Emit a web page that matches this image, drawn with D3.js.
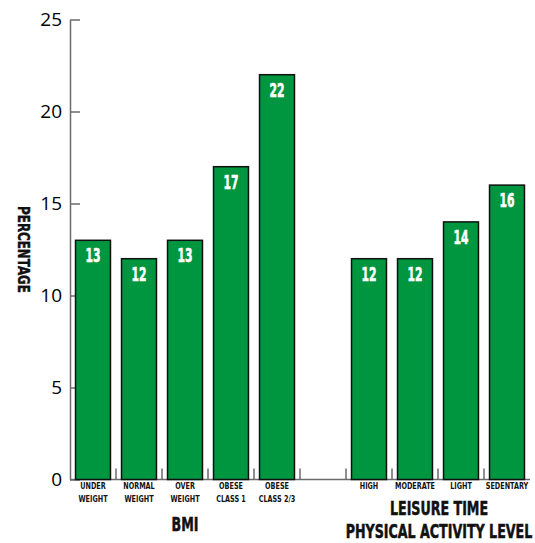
<!DOCTYPE html>
<html>
<head>
<meta charset="utf-8">
<script src="https://cdn.jsdelivr.net/npm/d3@7"></script>
<style>
  body { margin: 0; background: #fff; }
  .cond { font-family: "DejaVu Sans Condensed", "Liberation Sans Narrow", sans-serif; font-weight: bold; }
</style>
</head>
<body>
<svg id="chart" width="535" height="543"></svg>
<script>
const bmiLabels = [['UNDER', 'WEIGHT'], ['NORMAL', 'WEIGHT'], ['OVER', 'WEIGHT'], ['OBESE', 'CLASS 1'], ['OBESE', 'CLASS 2/3']];
const bmiValues = [13, 12, 13, 17, 22];
const activityLabels = [['HIGH'], ['MODERATE'], ['LIGHT'], ['SEDENTARY']];
const activityValues = [12, 12, 14, 16];
const yTicks = [0, 5, 10, 15, 20, 25];

const rows = [
	...bmiLabels.map((l, i) => ({key: 'b' + i, label: l, value: bmiValues[i]})),
	{key: 'gap', label: [], value: null},
	...activityLabels.map((l, i) => ({key: 'a' + i, label: l, value: activityValues[i]}))
];

const svg = d3.select('#chart'),
	plotLeft = 70, plotRight = 530, plotTop = 19.5, plotBottom = 479.5,
	green = '#00953f', axisColor = '#6b6b6b';

// squeeze text horizontally to imitate a condensed heavy face
const squeeze = (sel, k) => sel.each(function () {
	const len = this.getComputedTextLength();
	d3.select(this).attr('textLength', len * k).attr('lengthAdjust', 'spacingAndGlyphs');
});

const x = d3.scaleBand()
	.domain(rows.map(d => d.key))
	.range([plotLeft, plotRight])
	.paddingInner(0.24)
	.paddingOuter(0.12);

const y = d3.scaleLinear().domain([0, 25]).range([plotBottom, plotTop]);

// y axis, ticks pointing into the plot
const yAxis = svg.append('g')
	.attr('transform', `translate(${plotLeft},0)`)
	.call(d3.axisLeft(y).tickValues(yTicks).tickSize(-10).tickSizeOuter(0).tickPadding(8));
yAxis.selectAll('path, line').attr('stroke', axisColor).attr('stroke-width', 1.5);
yAxis.selectAll('text')
	.attr('font-family', '"Open Sans", "Noto Sans", sans-serif')
	.attr('font-size', 19)
	.attr('fill', '#000');

// baseline
svg.append('line')
	.attr('x1', plotLeft).attr('x2', plotRight)
	.attr('y1', plotBottom).attr('y2', plotBottom)
	.attr('stroke', axisColor).attr('stroke-width', 1.5);

// separator ticks between categories
const gapHalf = (x.step() - x.bandwidth()) / 2;
svg.append('g').selectAll('line')
	.data(rows.slice(1))
	.join('line')
	.attr('x1', d => x(d.key) - gapHalf)
	.attr('x2', d => x(d.key) - gapHalf)
	.attr('y1', plotBottom)
	.attr('y2', plotBottom - 11)
	.attr('stroke', axisColor)
	.attr('stroke-width', 1.5);

const bars = rows.filter(d => d.value !== null);

svg.append('g').selectAll('rect')
	.data(bars)
	.join('rect')
	.attr('x', d => x(d.key))
	.attr('y', d => y(d.value))
	.attr('width', x.bandwidth())
	.attr('height', d => y(0) - y(d.value))
	.attr('fill', green)
	.attr('stroke', '#111')
	.attr('stroke-width', 1.5);

svg.append('g').selectAll('text')
	.data(bars)
	.join('text')
	.attr('class', 'cond')
	.attr('x', d => x(d.key) + x.bandwidth() / 2)
	.attr('y', d => y(d.value) + 22)
	.attr('text-anchor', 'middle')
	.attr('font-size', 20)
	.attr('fill', '#fff')
	.attr('stroke', '#fff')
	.attr('stroke-width', 0.6)
	.text(d => d.value)
	.call(squeeze, 0.6);

// category labels
const cat = svg.append('g').selectAll('text')
	.data(rows.filter(d => d.label.length))
	.join('text')
	.attr('class', 'cond')
	.attr('text-anchor', 'middle')
	.attr('font-size', 9)
	.attr('fill', '#111');
cat.selectAll('tspan')
	.data(d => d.label.map(t => ({t, cx: x(d.key) + x.bandwidth() / 2})))
	.join('tspan')
	.attr('x', d => d.cx)
	.attr('y', (d, i) => 489 + i * 13)
	.text(d => d.t)
	.call(squeeze, 0.8);

// group titles
const bmiMid = (x('b0') + x('b4') + x.bandwidth()) / 2,
	actMid = (x('a0') + x('a3') + x.bandwidth()) / 2 + 1;

const titles = [
	{text: 'BMI', cx: bmiMid, y: 531},
	{text: 'LEISURE TIME', cx: actMid, y: 515},
	{text: 'PHYSICAL ACTIVITY LEVEL', cx: actMid, y: 538}
];
svg.append('g').selectAll('text')
	.data(titles)
	.join('text')
	.attr('class', 'cond')
	.attr('x', d => d.cx)
	.attr('y', d => d.y)
	.attr('text-anchor', 'middle')
	.attr('font-size', 19)
	.attr('fill', '#111')
	.attr('stroke', '#111')
	.attr('stroke-width', 0.5)
	.text(d => d.text)
	.call(squeeze, 0.74);

svg.append('text')
	.attr('class', 'cond')
	.attr('transform', 'translate(18,249.5) rotate(90)')
	.attr('text-anchor', 'middle')
	.attr('font-size', 15)
	.attr('fill', '#111')
	.attr('stroke', '#111')
	.attr('stroke-width', 0.4)
	.text('PERCENTAGE')
	.call(squeeze, 0.88);
</script>
</body>
</html>
